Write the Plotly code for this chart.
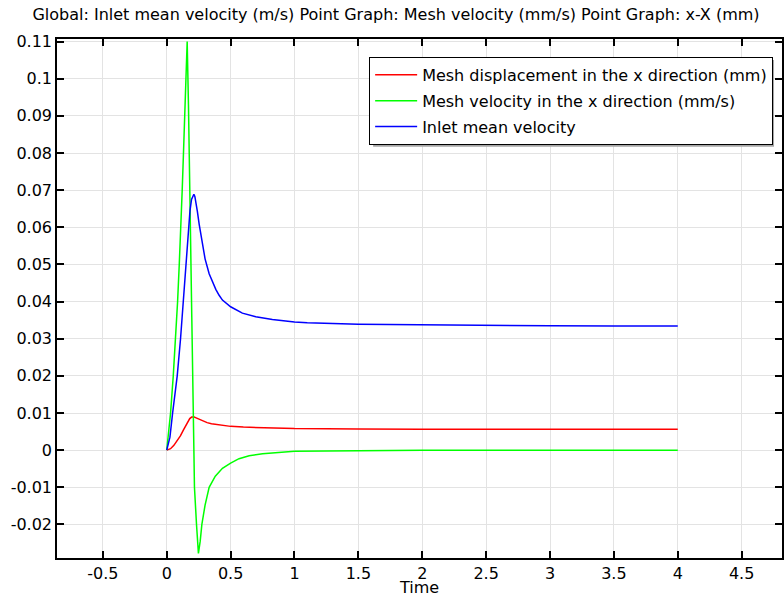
import plotly.graph_objects as go

# ---- data ----
t_disp = [0.0, 0.03, 0.056, 0.08, 0.108, 0.13, 0.147, 0.165, 0.18, 0.195, 0.207, 0.215, 0.23,
          0.25, 0.28, 0.316, 0.35, 0.4, 0.5, 0.6, 0.75, 1.0, 1.5, 2.0, 3.0, 4.0]
disp = [0.0, 0.0004, 0.0013, 0.0024, 0.0039, 0.0054, 0.0066, 0.0078, 0.0085, 0.0089, 0.0090, 0.0089, 0.0087,
        0.0084, 0.0079, 0.0074, 0.0071, 0.0068, 0.0064, 0.0062, 0.0060, 0.0058, 0.0057, 0.0056, 0.0056, 0.0056]

t_vel = [0.0, 0.015, 0.03, 0.051, 0.069, 0.085, 0.098, 0.111, 0.121, 0.131, 0.14, 0.15, 0.16,
         0.17, 0.181, 0.196, 0.2125, 0.217, 0.233, 0.248, 0.262, 0.275, 0.3, 0.332, 0.38, 0.436,
         0.5, 0.566, 0.645, 0.75, 1.0, 1.5, 2.0, 3.0, 4.0]
vel = [0.0, 0.005, 0.01, 0.02, 0.03, 0.04, 0.05, 0.06, 0.07, 0.08, 0.09, 0.1, 0.11,
       0.093, 0.0729, 0.036, 0.0, -0.01, -0.02, -0.0278, -0.0245, -0.02, -0.0148, -0.01, -0.007, -0.0049,
       -0.0035, -0.0023, -0.0015, -0.001, -0.0003, -0.0001, 0.0, 0.0, 0.0]

t_inlet = [0.0, 0.012, 0.025, 0.046, 0.065, 0.082, 0.108, 0.129, 0.15, 0.168, 0.182, 0.194, 0.204, 0.2125,
           0.22, 0.23, 0.24, 0.254, 0.27, 0.28, 0.3, 0.332, 0.36, 0.384, 0.41, 0.436, 0.5, 0.592, 0.697,
           0.827, 1.0, 1.1, 1.5, 2.0, 2.5, 3.0, 3.5, 4.0]
inlet = [0.0, 0.0015, 0.0035, 0.01, 0.015, 0.02, 0.03, 0.04, 0.05, 0.06, 0.0645, 0.0675, 0.0686, 0.0689,
         0.0683, 0.0665, 0.0642, 0.0608, 0.0574, 0.0553, 0.0515, 0.0475, 0.0450, 0.0433, 0.0417, 0.0404,
         0.0386, 0.0369, 0.0359, 0.0352, 0.0345, 0.0343, 0.0339, 0.0337, 0.0336, 0.0335, 0.0334, 0.0334]

names = ["Mesh displacement in the x direction (mm)",
         "Mesh velocity in the x direction (mm/s)",
         "Inlet mean velocity"]
colors = ["#ff0000", "#00ff00", "#0000ff"]

x_ticks = [-0.5, 0, 0.5, 1, 1.5, 2, 2.5, 3, 3.5, 4, 4.5]
x_tick_text = ["-0.5", "0", "0.5", "1", "1.5", "2", "2.5", "3", "3.5", "4", "4.5"]
y_ticks = [-0.02, -0.01, 0, 0.01, 0.02, 0.03, 0.04, 0.05, 0.06, 0.07, 0.08, 0.09, 0.1, 0.11]
y_tick_text = ["-0.02", "-0.01", "0", "0.01", "0.02", "0.03", "0.04", "0.05", "0.06", "0.07",
               "0.08", "0.09", "0.1", "0.11"]

title_text = "Global: Inlet mean velocity (m/s) Point Graph: Mesh velocity (mm/s) Point Graph: x-X (mm)"

FONT = "DejaVu Sans"
FS = 16

fig = go.Figure()
for tx, ys, nm, c in [(t_disp, disp, names[0], colors[0]),
                      (t_vel, vel, names[1], colors[1]),
                      (t_inlet, inlet, names[2], colors[2])]:
    fig.add_trace(go.Scatter(x=tx, y=ys, mode="lines", name=nm, legendgroup=nm,
                             line=dict(color=c, width=1.5)))

W, H = 784, 597
ML, MR, MT, MB = 57, 0, 39, 38
pw, ph = W - ML - MR, H - MT - MB

def px_x(p):
    return (p - ML) / pw

def px_y(p):
    return (H - MB - p) / ph

# legend shadow
fig.add_shape(type="rect", xref="paper", yref="paper",
              x0=px_x(374), x1=px_x(776), y0=px_y(147), y1=px_y(60),
              fillcolor="#a6a6a6", line=dict(width=0), layer="above")

fig.update_layout(
    width=W, height=H,
    margin=dict(l=ML, r=MR, t=MT, b=MB, pad=0),
    paper_bgcolor="white", plot_bgcolor="white",
    font=dict(family=FONT, size=FS, color="black"),
    title=dict(text=title_text, x=396 / W, xref="container", xanchor="center",
               y=1 - 14 / H, yanchor="middle",
               font=dict(family=FONT, size=FS, color="black")),
    showlegend=True,
    legend=dict(x=px_x(370), y=px_y(57), xanchor="left", yanchor="top",
                bgcolor="white", bordercolor="black", borderwidth=1,
                font=dict(family=FONT, size=FS, color="black"),
                tracegroupgap=2, itemwidth=42),
    xaxis=dict(range=[-0.859, 4.816], tickvals=x_ticks, ticktext=x_tick_text,
               showgrid=True, gridcolor="#e3e3e3", gridwidth=1,
               zeroline=False, showline=True, linecolor="black", linewidth=1.5,
               mirror="ticks", ticks="inside", ticklen=7, tickwidth=1.5, tickcolor="black",
               tickfont=dict(family=FONT, size=FS, color="black"),
               title=dict(text="Time", standoff=3, font=dict(family=FONT, size=FS, color="black"))),
    yaxis=dict(range=[-0.02904, 0.1107], tickvals=y_ticks, ticktext=y_tick_text,
               showgrid=True, gridcolor="#e3e3e3", gridwidth=1,
               zeroline=False, showline=True, linecolor="black", linewidth=1.5,
               mirror="ticks", ticks="inside", ticklen=7, tickwidth=1.5, tickcolor="black",
               tickfont=dict(family=FONT, size=FS, color="black")),
)

fig.write_html("out.html")
